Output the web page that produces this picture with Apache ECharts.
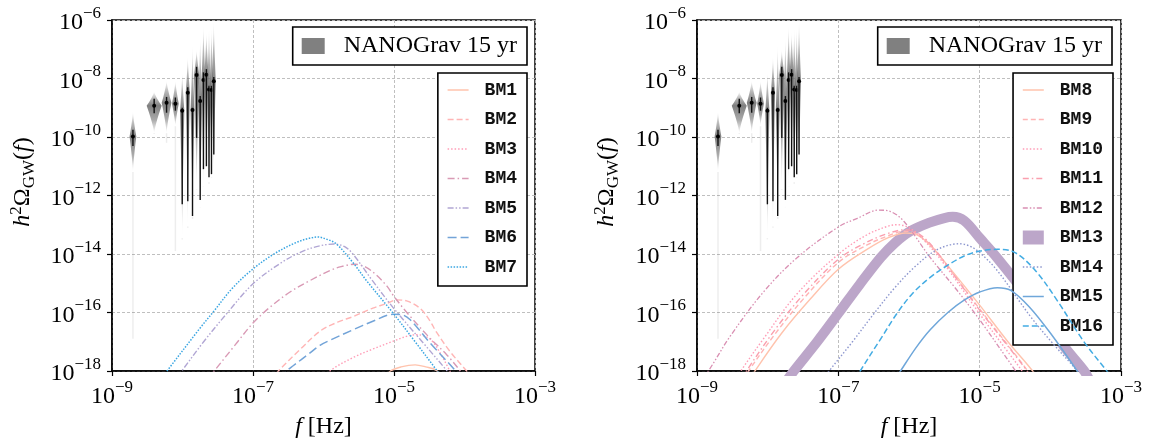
<!DOCTYPE html>
<html>
<head>
<meta charset="utf-8">
<script src="https://cdn.jsdelivr.net/npm/echarts@6/dist/echarts.min.js"></script>
<style>
  html, body { margin: 0; padding: 0; background: #fff; }
  #chart { width: 1151px; height: 444px; }
</style>
</head>
<body>
<div id="chart"></div>
<script>
// ---------------- DATA (log10 values) ----------------
// x ticks / y ticks (exponents of 10)
const xTickExponents = [-9, -7, -5, -3];
const yTickExponents = [-18, -16, -14, -12, -10, -8, -6];

// NANOGrav 15 yr violins: log10 f [Hz], median, top, bottom, relative width, error bar hi/lo, faint tail
const nanoLogF   = [-8.703, -8.402, -8.226, -8.101, -8.004, -7.925, -7.858, -7.800, -7.749, -7.703, -7.661, -7.624, -7.589, -7.556];
const nanoMedian = [-9.98, -8.93, -8.83, -8.86, -9.10, -8.49, -9.08, -7.88, -8.77, -8.05, -7.87, -8.38, -8.39, -8.09];
const nanoTop    = [-9.13, -8.45, -8.08, -8.08, -7.78, -7.24, -6.84, -7.01, -6.60, -6.17, -6.40, -6.27, -6.24, -6.00];
const nanoBottom = [-11.2, -9.87, -9.87, -9.63, -13.46, -13.06, -12.72, -11.78, -12.39, -11.71, -11.20, -11.55, -11.38, -11.20];
const nanoWidth  = [0.45, 1.0, 0.65, 0.45, 0.28, 0.28, 0.26, 0.35, 0.28, 0.26, 0.28, 0.26, 0.26, 0.26];
const nanoErrHi  = [-9.75, -8.69, -8.63, -8.65, -9.00, -8.30, -9.00, -7.60, -8.60, -7.79, -7.68, -8.25, -8.25, -7.95];
const nanoErrLo  = [-10.31, -9.19, -9.17, -9.10, -12.30, -12.20, -12.70, -10.03, -12.15, -11.10, -11.00, -11.38, -11.27, -10.60];
const nanoTail   = [-16.9, -9.9, -10.2, -13.9, -13.5, -13.1, -12.8, -11.8, -12.4, -11.7, -11.2, -11.6, -11.4, -11.2];

// Benchmark spectra: [log10 f, log10 h^2 Omega]
const BM1 = [[-5.15,-18.3],[-5.05,-18.0],[-4.90,-17.86],[-4.70,-17.79],[-4.55,-17.86],[-4.40,-17.98],[-4.30,-18.3]];
const BM2 = [[-6.75,-18.35],[-6.64,-18.0],[-6.33,-17.26],[-6.05,-16.64],[-5.80,-16.33],[-5.58,-16.14],[-5.30,-15.85],[-5.10,-15.69],[-4.96,-15.57],[-4.80,-15.62],[-4.63,-15.86],[-4.50,-16.25],[-4.39,-16.70],[-4.20,-17.35],[-3.97,-18.0],[-3.88,-18.3]];
const BM3 = [[-6.00,-18.3],[-5.91,-18.0],[-5.58,-17.54],[-5.30,-17.25],[-5.01,-16.98],[-4.80,-16.80],[-4.68,-16.76],[-4.55,-16.82],[-4.45,-17.0],[-4.33,-17.45],[-4.21,-17.99],[-4.15,-18.3]];
const BM4 = [[-7.65,-18.3],[-7.55,-18.0],[-7.25,-17.1],[-7.00,-16.36],[-6.75,-15.80],[-6.475,-15.30],[-6.20,-14.92],[-5.91,-14.57],[-5.75,-14.43],[-5.55,-14.35],[-5.40,-14.45],[-5.25,-14.72],[-5.10,-15.10],[-5.00,-15.45],[-4.80,-16.05],[-4.50,-16.85],[-4.25,-17.45],[-4.06,-18.0],[-3.98,-18.3]];
const BM5 = [[-8.10,-18.3],[-8.01,-18.0],[-7.70,-17.0],[-7.37,-16.03],[-7.00,-15.02],[-6.60,-14.30],[-6.29,-13.90],[-6.05,-13.72],[-5.85,-13.66],[-5.70,-13.75],[-5.58,-14.01],[-5.30,-14.93],[-5.01,-15.84],[-4.60,-17.0],[-4.25,-17.99],[-4.15,-18.3]];
const BM6 = [[-6.60,-18.3],[-6.52,-18.0],[-6.43,-17.82],[-6.20,-17.40],[-6.05,-17.12],[-5.91,-16.95],[-5.58,-16.59],[-5.30,-16.30],[-5.01,-16.06],[-4.90,-16.07],[-4.77,-16.25],[-4.49,-17.04],[-4.13,-17.99],[-4.05,-18.3]];
const BM7 = [[-8.30,-18.25],[-8.22,-18.0],[-7.75,-16.53],[-7.56,-15.97],[-7.30,-15.19],[-7.02,-14.55],[-6.71,-14.01],[-6.40,-13.62],[-6.20,-13.46],[-6.08,-13.42],[-5.95,-13.50],[-5.82,-13.65],[-5.58,-14.30],[-5.39,-14.91],[-5.01,-16.03],[-4.70,-17.0],[-4.39,-17.99],[-4.30,-18.3]];

const BM8  = [[-8.25,-18.3],[-8.18,-18.0],[-7.80,-16.70],[-7.40,-15.55],[-7.00,-14.52],[-6.60,-13.85],[-6.30,-13.45],[-6.05,-13.28],[-5.90,-13.33],[-5.70,-13.70],[-5.40,-14.55],[-5.00,-15.75],[-4.60,-17.0],[-4.25,-18.0],[-4.18,-18.3]];
const BM9  = [[-8.34,-18.3],[-8.27,-18.0],[-7.90,-16.75],[-7.50,-15.55],[-7.00,-14.29],[-6.60,-13.70],[-6.30,-13.38],[-6.05,-13.22],[-5.90,-13.30],[-5.70,-13.68],[-5.40,-14.60],[-5.00,-15.88],[-4.60,-17.12],[-4.32,-18.0],[-4.25,-18.3]];
const BM10 = [[-8.45,-18.3],[-8.38,-18.0],[-8.06,-16.90],[-7.58,-15.35],[-7.00,-14.01],[-6.60,-13.35],[-6.30,-13.05],[-6.17,-13.00],[-6.00,-13.10],[-5.80,-13.50],[-5.50,-14.35],[-5.00,-16.05],[-4.60,-17.35],[-4.40,-18.0],[-4.33,-18.3]];
const BM11 = [[-8.37,-18.3],[-8.30,-18.0],[-7.90,-16.60],[-7.50,-15.40],[-7.00,-14.18],[-6.60,-13.60],[-6.30,-13.30],[-6.05,-13.17],[-5.90,-13.25],[-5.70,-13.65],[-5.40,-14.60],[-5.00,-15.92],[-4.60,-17.15],[-4.33,-18.0],[-4.26,-18.3]];
const BM12 = [[-8.95,-18.3],[-8.84,-18.0],[-8.53,-16.81],[-8.06,-15.30],[-7.58,-14.12],[-6.99,-13.06],[-6.73,-12.78],[-6.43,-12.50],[-6.26,-12.55],[-6.07,-12.89],[-5.70,-14.12],[-5.32,-15.24],[-5.00,-16.25],[-4.49,-18.0],[-4.40,-18.3]];
const BM13 = [[-7.72,-18.3],[-7.63,-18.0],[-7.30,-17.0],[-7.00,-16.03],[-6.70,-15.05],[-6.40,-14.12],[-6.20,-13.62],[-5.98,-13.22],[-5.70,-12.92],[-5.50,-12.77],[-5.38,-12.73],[-5.22,-12.86],[-5.00,-13.45],[-4.75,-14.14],[-4.28,-15.58],[-3.81,-17.15],[-3.52,-18.0],[-3.45,-18.3]];
const BM14 = [[-7.20,-18.25],[-7.13,-18.0],[-6.80,-17.0],[-6.50,-16.05],[-6.20,-15.15],[-5.90,-14.40],[-5.60,-13.85],[-5.29,-13.65],[-5.15,-13.72],[-5.00,-13.95],[-4.75,-14.57],[-4.28,-16.14],[-3.95,-17.10],[-3.62,-18.0],[-3.55,-18.3]];
const BM15 = [[-6.20,-18.3],[-6.12,-18.0],[-5.90,-17.20],[-5.70,-16.59],[-5.45,-16.00],[-5.22,-15.58],[-5.00,-15.30],[-4.75,-15.15],[-4.56,-15.24],[-4.30,-15.80],[-4.00,-16.70],[-3.62,-18.0],[-3.55,-18.3]];
const BM16 = [[-6.75,-18.3],[-6.69,-18.0],[-6.40,-16.90],[-6.17,-16.03],[-5.95,-15.35],[-5.70,-14.80],[-5.45,-14.38],[-5.22,-14.07],[-5.00,-13.90],[-4.75,-13.84],[-4.50,-13.95],[-4.20,-14.60],[-3.90,-15.60],[-3.53,-16.98],[-3.20,-18.0],[-3.10,-18.3]];

// ---------------- STYLE ----------------
const SERIF = 'Liberation Serif';
const MONO = 'Liberation Mono';
const VIOLIN_HALF_WIDTH = 7.5;

const leftSpecs = [
  { name: 'BM1', data: BM1, color: '#ffc3ad', type: 'solid', width: 1.4 },
  { name: 'BM2', data: BM2, color: '#ffb5b5', type: [6, 3], width: 1.4 },
  { name: 'BM3', data: BM3, color: '#ff9db7', type: [1.5, 2], width: 1.4 },
  { name: 'BM4', data: BM4, color: '#d99ab5', type: [7, 3, 1.5, 3], width: 1.4 },
  { name: 'BM5', data: BM5, color: '#b1a6d4', type: [6, 2, 1.5, 2, 1.5, 2], width: 1.4 },
  { name: 'BM6', data: BM6, color: '#73a4d8', type: [9, 4], width: 1.5 },
  { name: 'BM7', data: BM7, color: '#3ba6e2', type: [1.5, 1.5], width: 1.5 }
];
const rightSpecs = [
  { name: 'BM8', data: BM8, color: '#ffc3ad', type: 'solid', width: 1.4 },
  { name: 'BM9', data: BM9, color: '#ffb5b5', type: [5, 3], width: 1.4 },
  { name: 'BM10', data: BM10, color: '#ff9db7', type: [1.5, 2], width: 1.4 },
  { name: 'BM11', data: BM11, color: '#fa9fae', type: [6, 3, 1.5, 3], width: 1.4 },
  { name: 'BM12', data: BM12, color: '#d98fb2', type: [5, 2, 1.5, 2, 1.5, 2], width: 1.3 },
  { name: 'BM13', data: BM13, color: '#bca6c9', type: 'solid', width: 10 },
  { name: 'BM14', data: BM14, color: '#8d97cf', type: [1.5, 2], width: 1.4 },
  { name: 'BM15', data: BM15, color: '#6fa7da', type: 'solid', width: 1.5 },
  { name: 'BM16', data: BM16, color: '#43ace3', type: [6, 3], width: 1.5 }
];

const violinData = nanoLogF.map((f, i) => [f, nanoMedian[i], nanoTop[i], nanoBottom[i], nanoWidth[i], nanoErrHi[i], nanoErrLo[i], nanoTail[i]]);

function renderViolin(params, api) {
  const f = api.value(0);
  const pm = api.coord([f, api.value(1)]);
  const pt = api.coord([f, api.value(2)]);
  const pb = api.coord([f, api.value(3)]);
  const w = api.value(4) * VIOLIN_HALF_WIDTH;
  const pe1 = api.coord([f, api.value(5)]);
  const pe2 = api.coord([f, api.value(6)]);
  const ptl = api.coord([f, api.value(7)]);
  const x = pm[0];
  const pts = [];
  const N = 10;
  for (let i = 0; i <= N; i++) {
    const t = i / N;
    const prof = Math.pow(t, 1.3);
    pts.push([x + w * prof, pt[1] + (pm[1] - pt[1]) * t]);
  }
  for (let i = 1; i <= N; i++) {
    const t = i / N;
    const prof = Math.pow(1 - t, 1.3);
    pts.push([x + w * prof, pm[1] + (pb[1] - pm[1]) * t]);
  }
  const right = pts.slice();
  const left = right.slice().reverse().map(p => [2 * x - p[0], p[1]]);
  const poly = right.concat(left.slice(1, left.length - 1));
  const span = Math.max(1, pb[1] - pt[1]);
  const mf = Math.min(0.98, Math.max(0.02, (pm[1] - pt[1]) / span));
  const fill = {
    type: 'linear', x: 0, y: 0, x2: 0, y2: 1,
    colorStops: [
      { offset: 0, color: 'rgba(110,110,110,0)' },
      { offset: mf * 0.5, color: 'rgba(110,110,110,0.5)' },
      { offset: mf, color: 'rgba(105,105,105,0.85)' },
      { offset: mf + (1 - mf) * 0.5, color: 'rgba(110,110,110,0.6)' },
      { offset: 1, color: 'rgba(110,110,110,0)' }
    ]
  };
  return {
    type: 'group',
    children: [
      { type: 'line', shape: { x1: x, y1: pb[1], x2: x, y2: ptl[1] }, style: { stroke: 'rgba(0,0,0,0.07)', lineWidth: 1.5 } },
      { type: 'polygon', shape: { points: poly }, style: { fill: fill } },
      { type: 'line', shape: { x1: x, y1: pe1[1], x2: x, y2: pe2[1] }, style: { stroke: '#111', lineWidth: 1.4 } },
      { type: 'circle', shape: { cx: x, cy: pm[1], r: 2.0 }, style: { fill: '#000' } }
    ]
  };
}

function sup(v) { return '{b|10}{s|\u2212' + Math.abs(v) + '}'; }
const tickRich = {
  b: { fontFamily: SERIF, fontSize: 24, lineHeight: 30, verticalAlign: 'bottom', color: '#000' },
  s: { fontFamily: SERIF, fontSize: 17, lineHeight: 17, verticalAlign: 'top', color: '#000' }
};

function makeX(idx) {
  return {
    type: 'value', gridIndex: idx, min: xTickExponents[0], max: xTickExponents[xTickExponents.length - 1], interval: 2,
    name: '{i|f}{n| [Hz]}', nameLocation: 'middle', nameGap: 44,
    nameTextStyle: { rich: {
      i: { fontFamily: SERIF, fontStyle: 'italic', fontSize: 24, color: '#000' },
      n: { fontFamily: SERIF, fontSize: 24, color: '#000' } } },
    axisLine: { show: true, onZero: false, lineStyle: { color: '#000', width: 1.5 } },
    axisTick: { show: true, length: 5, lineStyle: { color: '#000', width: 1.2 } },
    axisLabel: { margin: 8, formatter: v => sup(v), rich: tickRich },
    splitLine: { show: true, lineStyle: { color: '#b8b8b8', width: 0.9, type: [3, 2] } }
  };
}
function makeY(idx) {
  return {
    type: 'value', gridIndex: idx, min: yTickExponents[0], max: yTickExponents[yTickExponents.length - 1], interval: 2,
    axisLine: { show: true, onZero: false, lineStyle: { color: '#000', width: 1.5 } },
    axisTick: { show: true, length: 5, lineStyle: { color: '#000', width: 1.2 } },
    axisLabel: { margin: 11, formatter: v => sup(v), rich: tickRich },
    splitLine: { show: true, lineStyle: { color: '#b8b8b8', width: 0.9, type: [3, 2] } }
  };
}

function lineSeries(spec, idx) {
  return {
    type: 'line', name: spec.name, xAxisIndex: idx, yAxisIndex: idx,
    data: spec.data, showSymbol: false, symbol: 'circle', smooth: 0.35,
    lineStyle: { color: spec.color, width: spec.width, type: spec.type, cap: 'butt', join: 'round' },
    itemStyle: { color: spec.color },
    z: spec.width > 5 ? 3 : 4
  };
}

function violinSeries(idx) {
  return {
    type: 'custom', name: 'NANOGrav 15 yr', xAxisIndex: idx, yAxisIndex: idx,
    data: violinData, renderItem: renderViolin, encode: { x: 0, y: 1 },
    itemStyle: { color: '#808080' }, z: 2, clip: true
  };
}

const nanoLegendBase = {
  orient: 'vertical', top: 27, icon: 'rect', itemWidth: 23, itemHeight: 16,
  padding: [7, 10, 7, 9], backgroundColor: '#fff', borderColor: '#000', borderWidth: 1.6, borderRadius: 0,
  textStyle: { fontFamily: SERIF, fontSize: 24, color: '#000', padding: [0, 0, 0, 14] },
  data: ['NANOGrav 15 yr'], selectedMode: false
};
function bmLegend(specs, right) {
  return {
    orient: 'vertical', top: 73, right: right, itemWidth: 21, itemHeight: 14, itemGap: 11.5,
    padding: [8, 10, 10, 9], backgroundColor: '#fff', borderColor: '#000', borderWidth: 1.6, borderRadius: 0,
    textStyle: { fontFamily: MONO, fontSize: 18, fontWeight: 'bold', color: '#111', padding: [0, 0, 0, 11] },
    lineStyle: { width: 1.5 },
    itemStyle: { opacity: 0 },
    data: specs.map(s => s.width > 5
      ? { name: s.name, icon: 'rect', itemStyle: { color: s.color, opacity: 1 } }
      : { name: s.name }),
    selectedMode: false
  };
}

const yNameRich = {
  i: { fontFamily: SERIF, fontStyle: 'italic', fontSize: 24, lineHeight: 30, verticalAlign: 'middle', fill: '#000' },
  n: { fontFamily: SERIF, fontSize: 24, lineHeight: 30, verticalAlign: 'middle', fill: '#000' },
  s: { fontFamily: SERIF, fontSize: 17, lineHeight: 17, verticalAlign: 'top', fill: '#000' },
  d: { fontFamily: SERIF, fontSize: 17, lineHeight: 17, verticalAlign: 'bottom', fill: '#000' }
};
function yName(cx, cy) {
  return {
    type: 'text', x: cx, y: cy, rotation: Math.PI / 2,
    style: { text: '{i|h}{s|2}{n|\u03A9}{d|GW}{n|(}{i|f}{n|)}', rich: yNameRich, align: 'center', verticalAlign: 'middle' }
  };
}

const option = {
  animation: false,
  backgroundColor: '#fff',
  grid: [
    { left: 112, top: 20, width: 423, height: 357, show: true, borderColor: '#000', borderWidth: 1.5, backgroundColor: 'transparent' },
    { left: 697, top: 20, width: 424, height: 357, show: true, borderColor: '#000', borderWidth: 1.5, backgroundColor: 'transparent' }
  ],
  xAxis: [makeX(0), makeX(1)],
  yAxis: [makeY(0), makeY(1)],
  legend: [
    Object.assign({}, nanoLegendBase, { right: 624 }),
    bmLegend(leftSpecs, 624),
    Object.assign({}, nanoLegendBase, { right: 39 }),
    bmLegend(rightSpecs, 38)
  ],
  graphic: [yName(23, 182), yName(607, 182)],
  series: [violinSeries(0)].concat(leftSpecs.map(s => lineSeries(s, 0)), [violinSeries(1)], rightSpecs.map(s => lineSeries(s, 1)))
};

const chart = echarts.init(document.getElementById('chart'), null, { renderer: 'canvas' });
chart.setOption(option);
</script>
</body>
</html>
